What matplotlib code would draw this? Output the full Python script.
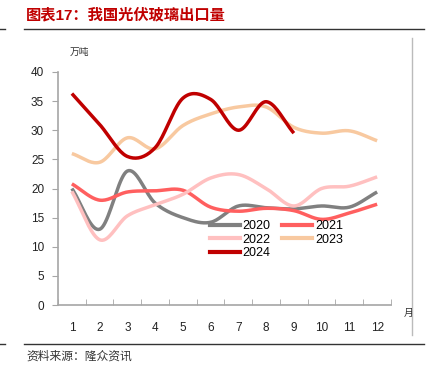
import numpy as np
import matplotlib.pyplot as plt
from matplotlib.lines import Line2D

plt.rcParams['font.family'] = ['Liberation Sans', 'Noto Sans CJK SC', 'DejaVu Sans']

months = list(range(1, 13))
month_labels = [str(m) for m in months]

v2020 = [20.0, 13.0, 23.0, 17.5, 15.0, 14.2, 17.0, 16.7, 16.5, 17.0, 16.8, 19.4]
v2021 = [20.8, 18.0, 19.4, 19.6, 19.7, 16.8, 16.1, 16.6, 16.2, 14.7, 15.8, 17.3]
v2022 = [19.5, 11.2, 15.3, 17.2, 19.0, 21.8, 22.4, 20.0, 17.0, 20.0, 20.4, 22.0]
v2023 = [26.0, 24.5, 28.7, 26.8, 30.8, 32.8, 34.0, 34.0, 30.5, 29.5, 29.9, 28.2]
v2024 = [36.3, 31.0, 25.5, 27.0, 35.5, 35.3, 30.0, 34.9, 29.5]

series = [
    ('2020', v2020, '#808080'),
    ('2021', v2021, '#FF5F5F'),
    ('2022', v2022, '#FFC0C0'),
    ('2023', v2023, '#F8C9A0'),
    ('2024', v2024, '#C00000'),
]


def smooth(x, y, n=20):
    # Catmull-Rom curve through the points (like Excel's smoothed line)
    x = np.asarray(x, float)
    y = np.asarray(y, float)
    px = np.concatenate([[2 * x[0] - x[1]], x, [2 * x[-1] - x[-2]]])
    py = np.concatenate([[2 * y[0] - y[1]], y, [2 * y[-1] - y[-2]]])
    xs, ys = [], []
    t = np.linspace(0, 1, n, endpoint=False)
    for i in range(1, len(px) - 2):
        for p, out in ((px, xs), (py, ys)):
            p0, p1, p2, p3 = p[i - 1], p[i], p[i + 1], p[i + 2]
            out.extend(0.5 * (2 * p1 + (-p0 + p2) * t
                              + (2 * p0 - 5 * p1 + 4 * p2 - p3) * t ** 2
                              + (-p0 + 3 * p1 - 3 * p2 + p3) * t ** 3))
    xs.append(x[-1])
    ys.append(y[-1])
    return xs, ys


fig = plt.figure(figsize=(4.31, 3.77), dpi=100)
ax = fig.add_axes([58 / 431, 1 - 305 / 377, 333 / 431, 233 / 377])

for name, vals, col in series:
    sx, sy = smooth(months[:len(vals)], vals)
    ax.plot(sx, sy, color=col, lw=2.5, solid_capstyle='butt', label=name)

ax.set_xlim(0.5, 12.5)
ax.set_ylim(0, 40)
ax.set_yticks(range(0, 41, 5))
ax.set_xticks(months)
ax.set_xticklabels(month_labels)
ax.set_xticks(np.arange(0.5, 12.6, 1), minor=True)
ax.tick_params(axis='x', which='major', length=0, pad=12, labelsize=8.5, colors='#222222')
ax.tick_params(axis='x', which='minor', length=4, color='#A6A6A6', direction='in')
ax.tick_params(axis='y', length=4, color='#A6A6A6', labelsize=8.5, labelcolor='#222222', pad=6)
for s in ['top', 'right']:
    ax.spines[s].set_visible(False)
for s in ['left', 'bottom']:
    ax.spines[s].set_color('#A6A6A6')
    ax.spines[s].set_linewidth(1.2)

# row-major order in the legend: 2020 2021 / 2022 2023 / 2024
order = [0, 2, 4, 1, 3]
handles = [Line2D([], [], color=series[i][2], lw=3) for i in order]
labels = [series[i][0] for i in order]
ax.legend(handles, labels, ncol=2, loc='upper left',
          bbox_to_anchor=(0.44, 0.385), frameon=False, fontsize=9,
          handlelength=2.4, columnspacing=0.9, labelspacing=0.12,
          handletextpad=0.25, borderaxespad=0)

fig.text(70 / 431, 1 - 52 / 377, '万吨', fontsize=7, va='center', color='#333333')
fig.text(404 / 431, 1 - 313 / 377, '月', fontsize=7, va='center', color='#333333')

fig.text(26 / 431, 1 - 15 / 377, '图表17：我国光伏玻璃出口量', fontsize=11,
         fontweight='bold', color='#C00000', va='center')
fig.text(26 / 431, 1 - 357 / 377, '资料来源：隆众资讯', fontsize=8.5,
         color='#333333', va='center')

fig.add_artist(Line2D([24 / 431, 424 / 431], [1 - 29 / 377] * 2, color='#333333', lw=1))
fig.add_artist(Line2D([0, 5 / 431], [1 - 29 / 377] * 2, color='#333333', lw=1))
fig.add_artist(Line2D([24 / 431, 424 / 431], [1 - 344 / 377] * 2, color='#333333', lw=1))
fig.add_artist(Line2D([0, 5 / 431], [1 - 344 / 377] * 2, color='#333333', lw=1))
fig.add_artist(Line2D([412 / 431] * 2, [1 - 38 / 377, 1 - 335 / 377], color='#BBBBBB', lw=1))

fig.savefig('out.png', dpi=100)
